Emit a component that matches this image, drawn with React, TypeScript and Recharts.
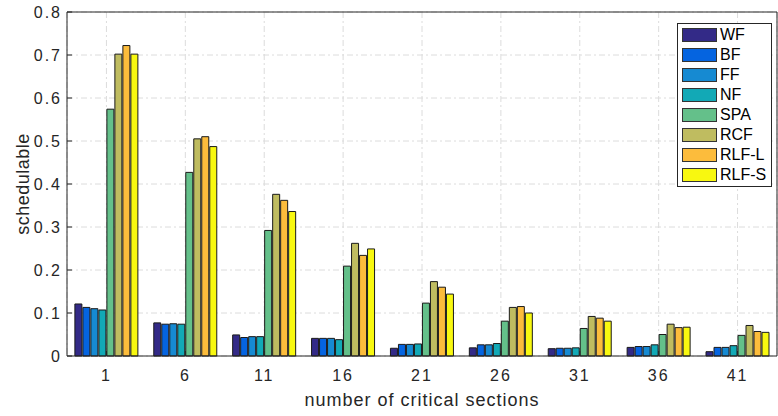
import { Bar, BarChart, CartesianGrid, Legend, XAxis, YAxis } from "recharts";

// number of critical sections per task set
const sections = ["1", "6", "11", "16", "21", "26", "31", "36", "41"];

// schedulable ratio per algorithm
const wf = [0.121, 0.077, 0.049, 0.041, 0.018, 0.019, 0.017, 0.02, 0.01];
const bf = [0.113, 0.074, 0.043, 0.041, 0.027, 0.026, 0.018, 0.022, 0.02];
const ff = [0.11, 0.075, 0.045, 0.041, 0.027, 0.026, 0.018, 0.022, 0.02];
const nf = [0.107, 0.074, 0.045, 0.038, 0.028, 0.029, 0.019, 0.026, 0.024];
const spa = [0.574, 0.427, 0.292, 0.209, 0.123, 0.081, 0.064, 0.05, 0.048];
const rcf = [0.702, 0.505, 0.376, 0.262, 0.173, 0.113, 0.092, 0.074, 0.071];
const rlfL = [0.722, 0.51, 0.362, 0.234, 0.16, 0.115, 0.088, 0.066, 0.057];
const rlfS = [0.702, 0.487, 0.336, 0.249, 0.144, 0.1, 0.081, 0.067, 0.055];

const yTicks = [0, 0.1, 0.2, 0.3, 0.4, 0.5, 0.6, 0.7, 0.8];

const series = [
  { key: "WF", values: wf, color: "#332a87" },
  { key: "BF", values: bf, color: "#0564e0" },
  { key: "FF", values: ff, color: "#168ad2" },
  { key: "NF", values: nf, color: "#12a9b6" },
  { key: "SPA", values: spa, color: "#64c08a" },
  { key: "RCF", values: rcf, color: "#bfbc60" },
  { key: "RLF-L", values: rlfL, color: "#fcbc3c" },
  { key: "RLF-S", values: rlfS, color: "#f8f810" },
];

const rows = sections.map((s, i) => {
  const row: Record<string, string | number> = { x: s };
  for (const sr of series) row[sr.key] = sr.values[i];
  return row;
});

const INK = "#262626";
const FONT = "'Liberation Sans', Arial, Helvetica, sans-serif";

function LegendBox() {
  return (
    <div
      style={{
        border: `1px solid ${INK}`,
        background: "#fff",
        padding: "1px 0",
        width: 93,
        fontFamily: FONT,
      }}
    >
      {series.map((s) => (
        <div
          key={s.key}
          style={{ display: "flex", alignItems: "center", height: 20 }}
        >
          <span
            style={{
              display: "inline-block",
              width: 33,
              height: 12,
              marginLeft: 4,
              marginRight: 3,
              background: s.color,
              border: "1px solid #333",
            }}
          />
          <span style={{ fontSize: 16, color: "#000", lineHeight: "20px" }}>
            {s.key}
          </span>
        </div>
      ))}
    </div>
  );
}

export default function App() {
  const tick = { fill: INK, fontSize: 16, fontFamily: FONT, letterSpacing: 2 };
  return (
    <div style={{ position: "absolute", left: 0, top: 0, fontFamily: FONT }}>
      <BarChart
        width={778}
        height={416}
        data={rows}
        margin={{ top: 0, right: 0, bottom: 0, left: 0 }}
        barCategoryGap="10%"
        barGap={1}
      >
        <CartesianGrid stroke="#dcdcdc" strokeDasharray="6 3 2 3" />
        <XAxis
          dataKey="x"
          height={60}
          tick={tick}
          tickSize={-5}
          tickMargin={19}
          stroke={INK}
          label={{
            value: "number of critical sections",
            position: "insideBottom",
            offset: 10,
            fill: INK,
            fontSize: 18,
            fontFamily: FONT,
            letterSpacing: 1,
          }}
        />
        <XAxis
          xAxisId="top"
          dataKey="x"
          orientation="top"
          height={12}
          tick={false}
          tickSize={-5}
          stroke={INK}
        />
        <YAxis
          width={67}
          domain={[0, 0.8]}
          ticks={yTicks}
          tick={tick}
          tickSize={-5}
          tickMargin={10}
          tickFormatter={(v: number) => (v === 0 ? "0" : String(v))}
          stroke={INK}
          label={{
            value: "schedulable",
            angle: -90,
            position: "insideLeft",
            offset: 23,
            fill: INK,
            fontSize: 18,
            fontFamily: FONT,
            letterSpacing: 0.5,
            style: { textAnchor: "middle" },
          }}
        />
        <YAxis
          yAxisId="right"
          orientation="right"
          width={1}
          domain={[0, 0.8]}
          ticks={yTicks}
          allowDataOverflow
          tick={false}
          tickSize={-5}
          stroke={INK}
        />
        <Legend
          layout="vertical"
          align="center"
          verticalAlign="middle"
          content={() => <LegendBox />}
          wrapperStyle={{ left: 677, top: 23, width: 95, height: "auto" }}
        />
        {series.map((s) => (
          <Bar
            key={s.key}
            dataKey={s.key}
            fill={s.color}
            stroke="#1a1a1a"
            strokeWidth={1}
            isAnimationActive={false}
          />
        ))}
      </BarChart>
    </div>
  );
}
